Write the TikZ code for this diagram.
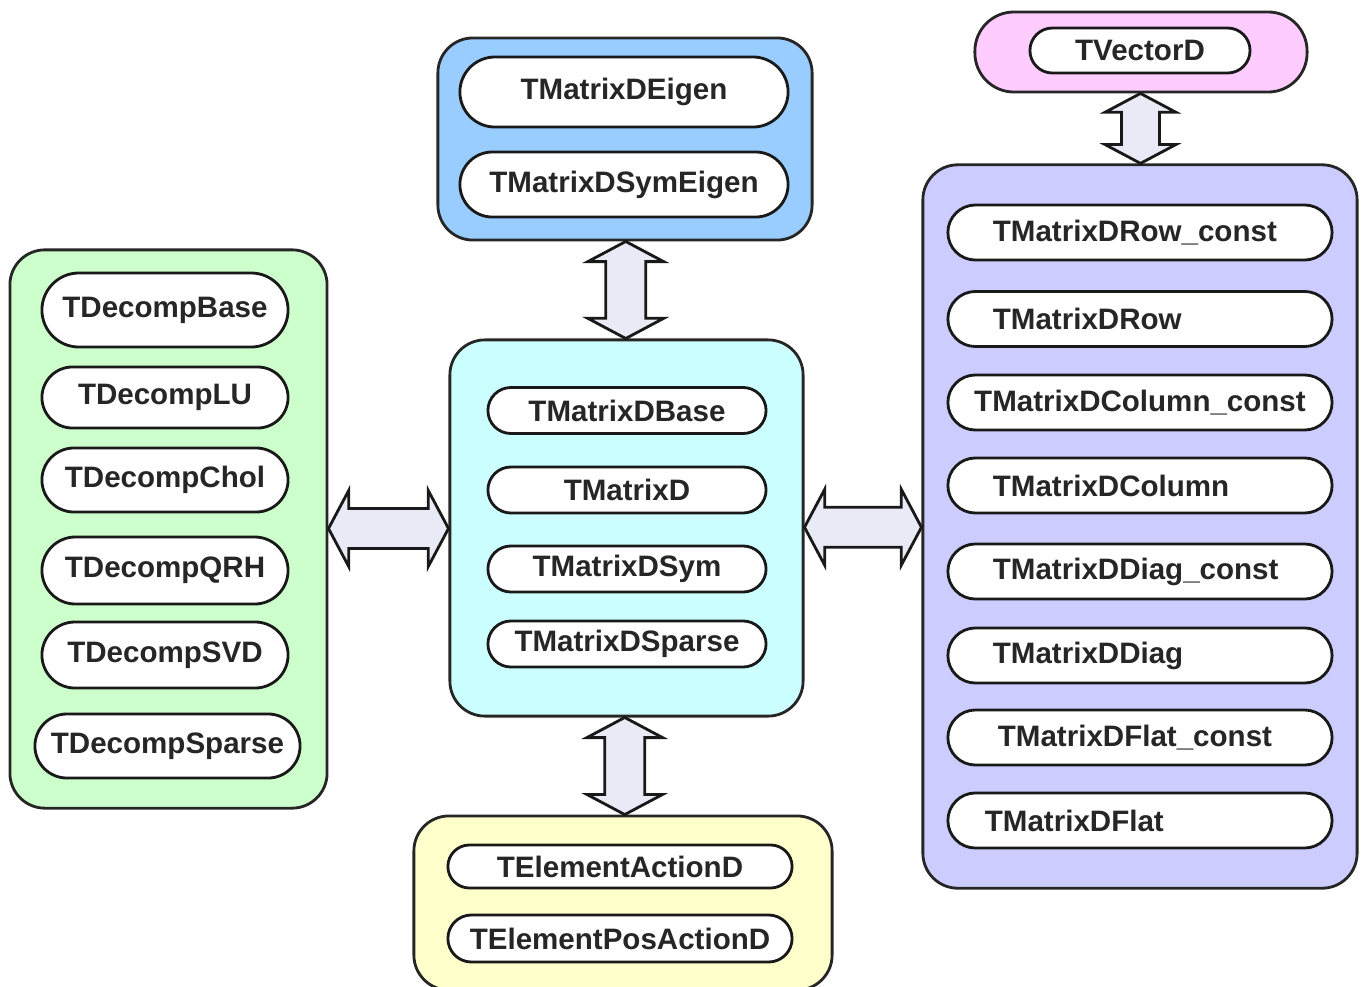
\documentclass[tikz,border=0pt]{standalone}
\usepackage{fontspec}
\setmainfont{Liberation Sans}
\usetikzlibrary{shapes.misc,shapes.arrows,calc,positioning}
\definecolor{BoxBlue}{HTML}{99CCFF}
\definecolor{BoxCyan}{HTML}{CCFFFF}
\definecolor{BoxGreen}{HTML}{CCFFCC}
\definecolor{BoxYellow}{HTML}{FFFFCC}
\definecolor{BoxPink}{HTML}{FFCCFF}
\definecolor{BoxPurple}{HTML}{CCCCFF}
\definecolor{LinkFill}{HTML}{E8EBF5}
\tikzset{
  group/.style={draw=black!85, line width=0.8pt, rounded corners=0.35cm},
  cls/.style={rounded rectangle, draw=black!90, fill=white, line width=0.8pt, inner sep=0pt,
    font=\bfseries\fontsize{8.4}{10}\selectfont, text=black!85},
  link/.style={double arrow, draw=black!90, fill=LinkFill, line width=0.8pt, inner sep=0pt,
    inner ysep=0.185cm, double arrow head extend=0.18cm, double arrow tip angle=124}
}

\begin{document}
\begin{tikzpicture}[x=0.01cm,y=-0.01cm]
        \useasboundingbox (0,0) rectangle (1365,987);

        % Draw the groups
        \node[group, fill=BoxBlue, minimum width=3.74cm, minimum height=2.02cm] (eigen) at (625,139) {};
        \node[group, fill=BoxCyan, minimum width=3.53cm, minimum height=3.76cm] (matrix) at (626.5,528) {};
        \node[group, fill=BoxGreen, minimum width=3.17cm, minimum height=5.58cm] (decomp) at (168.5,529) {};
        \node[group, fill=BoxYellow, minimum width=4.18cm, minimum height=1.74cm] (action) at (623,903) {};
        \node[group, fill=BoxPink, rounded corners=0.39cm, minimum width=3.32cm, minimum height=0.80cm] (vector) at (1141,52) {};
        \node[group, fill=BoxPurple, minimum width=4.34cm, minimum height=7.23cm] (helper) at (1140,526.5) {};

        % eigen classes
        \node[cls, minimum width=3.28cm, minimum height=0.70cm] (e0) at (624,92) {TMatrixDEigen};
        \node[cls, minimum width=3.28cm, minimum height=0.65cm] (e1) at (624,184.5) {TMatrixDSymEigen};

        % matrix classes
        \foreach \nm[count=\c,evaluate={\ci=int(\c-1)}] /\y in {TMatrixDBase/410.5, TMatrixD/490, TMatrixDSym/569, TMatrixDSparse/644}{
            \node[cls, minimum width=2.78cm, minimum height=0.46cm] (m\ci) at (627,\y) {\nm};
        }

        % decomposition classes
        \foreach \nm[count=\c,evaluate={\ci=int(\c-1)}] /\y/\h in {TDecompBase/310/0.74, TDecompLU/397.5/0.61, TDecompChol/480/0.64, TDecompQRH/570.5/0.67, TDecompSVD/655/0.66}{
            \node[cls, minimum width=2.46cm, minimum height=\h cm] (d\ci) at (165,\y) {\nm};
        }
        \node[cls, minimum width=2.65cm, minimum height=0.64cm] (d5) at (167.5,746) {TDecompSparse};

        % element actions
        \node[cls, minimum width=3.44cm, minimum height=0.43cm] (a0) at (620,866.5) {TElementActionD};
        \node[cls, minimum width=3.44cm, minimum height=0.47cm] (a1) at (620,938.5) {TElementPosActionD};

        % vector
        \node[cls, minimum width=2.20cm, minimum height=0.45cm] (v0) at (1140,50.5) {TVectorD};

        % row, column, diag and flat helpers
        \foreach \nm[count=\c,evaluate={\ci=int(\c-1)}] /\y/\al/\tw in {TMatrixDRow\_const/232.5/left/2.94, TMatrixDRow/319/left/2.94, TMatrixDColumn\_const/402.5/center/3.5, TMatrixDColumn/485.5/left/2.94, TMatrixDDiag\_const/571.5/left/2.94, TMatrixDDiag/655.5/left/2.94, TMatrixDFlat\_const/737.5/left/2.84, TMatrixDFlat/820.5/left/3.1}{
            \node[cls, minimum width=3.84cm, minimum height=0.55cm, text width=\tw cm, align=\al] (h\ci) at (1140,\y) {\nm};
        }

        % Draw the links between groups
        \path let \p1=($(decomp.east)-(matrix.west)$), \n1={veclen(\x1,\y1)} in
            node[link, minimum height=\n1, minimum width=0.73cm] (l0) at ($(decomp.east)!0.5!(matrix.west)$) {};
        \path let \p1=($(matrix.east)-(helper.west)$), \n1={veclen(\x1,\y1)} in
            node[link, minimum height=\n1, minimum width=0.74cm] (l1) at ($(matrix.east)!0.5!(helper.west)$) {};
        \path let \p1=($(eigen.south)-(matrix.north)$), \n1={veclen(\x1,\y1)} in
            node[link, rotate=90, minimum height=\n1, minimum width=0.74cm] (l2) at ($(eigen.south)!0.5!(matrix.north)$) {};
        \path let \p1=($(matrix.south)-(action.north)$), \n1={veclen(\x1,\y1)} in
            node[link, rotate=90, minimum height=\n1, minimum width=0.74cm] (l3) at ($(matrix.south)!0.5!(action.north)$) {};
        \path let \p1=($(vector.south)-(helper.north)$), \n1={veclen(\x1,\y1)} in
            node[link, rotate=90, minimum height=\n1, minimum width=0.68cm, inner ysep=0.175cm, double arrow head extend=0.165cm] (l4) at ($(vector.south)!0.5!(helper.north)$) {};
    \end{tikzpicture}
\end{document}
